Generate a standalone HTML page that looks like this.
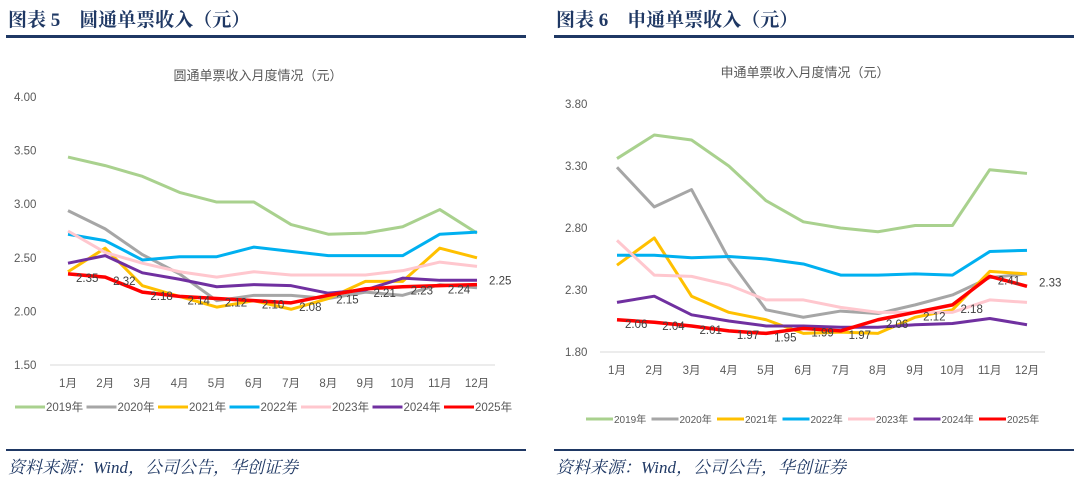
<!DOCTYPE html>
<html><head><meta charset="utf-8"><style>
body{margin:0;background:#fff;width:1080px;height:480px;overflow:hidden;font-family:"Liberation Sans","Noto Sans CJK SC",sans-serif}
</style></head><body>
<svg id="svg" width="1080" height="480" xmlns="http://www.w3.org/2000/svg">
<g>
<text x="8" y="26" font-family="'Liberation Serif','Noto Serif CJK SC',serif" font-weight="bold" font-size="19" fill="#1f3864">图表 5　圆通单票收入（元）</text>
<rect x="6" y="35" width="520" height="3" fill="#1f3864"/>
</g>
<g>
<text x="556" y="26" font-family="'Liberation Serif','Noto Serif CJK SC',serif" font-weight="bold" font-size="19" fill="#1f3864">图表 6　申通单票收入（元）</text>
<rect x="554" y="35" width="520" height="3" fill="#1f3864"/>
</g>
<rect x="6" y="449" width="520" height="2" fill="#1f3864"/>
<rect x="554" y="449" width="520" height="2" fill="#1f3864"/>
<text x="8" y="473" font-family="'Liberation Serif','Noto Serif CJK SC',serif" font-style="italic" font-size="17" fill="#1f3864">资料来源：Wind，公司公告，华创证券</text>
<text x="556" y="473" font-family="'Liberation Serif','Noto Serif CJK SC',serif" font-style="italic" font-size="17" fill="#1f3864">资料来源：Wind，公司公告，华创证券</text>
</svg>
<script>
const months=["1月","2月","3月","4月","5月","6月","7月","8月","9月","10月","11月","12月"];
const years=["2019年","2020年","2021年","2022年","2023年","2024年","2025年"];
const colors=["#a9d18e","#a6a6a6","#ffc000","#00b0f0","#ffc7ce","#7030a0","#ff0000"];
const ytoTicks=[1.5,2.0,2.5,3.0,3.5,4.0];
const yto2019=[3.44,3.36,3.26,3.11,3.02,3.02,2.81,2.72,2.73,2.79,2.95,2.73];
const yto2020=[2.94,2.77,2.53,2.35,2.10,2.15,2.15,2.12,2.18,2.15,2.25,2.22];
const yto2021=[2.37,2.59,2.24,2.14,2.04,2.10,2.02,2.12,2.28,2.28,2.59,2.50];
const yto2022=[2.72,2.66,2.48,2.51,2.51,2.60,2.56,2.52,2.52,2.52,2.72,2.74];
const yto2023=[2.75,2.55,2.45,2.37,2.32,2.37,2.34,2.34,2.34,2.38,2.46,2.42];
const yto2024=[2.45,2.52,2.36,2.30,2.23,2.25,2.24,2.17,2.20,2.31,2.29,2.29];
const yto2025=[2.35,2.32,2.18,2.14,2.12,2.10,2.08,2.15,2.21,2.23,2.24,2.25];
const stoTicks=[1.8,2.3,2.8,3.3,3.8];
const sto2019=[3.36,3.55,3.51,3.30,3.02,2.85,2.80,2.77,2.82,2.82,3.27,3.24];
const sto2020=[3.29,2.97,3.11,2.55,2.14,2.08,2.13,2.11,2.18,2.26,2.40,2.43];
const sto2021=[2.50,2.72,2.25,2.12,2.06,1.95,1.96,1.95,2.08,2.14,2.45,2.43];
const sto2022=[2.58,2.58,2.56,2.57,2.55,2.51,2.42,2.42,2.43,2.42,2.61,2.62];
const sto2023=[2.70,2.42,2.41,2.34,2.22,2.22,2.16,2.12,2.12,2.12,2.22,2.20];
const sto2024=[2.20,2.25,2.10,2.05,2.01,2.01,2.00,2.00,2.02,2.03,2.07,2.02];
const sto2025=[2.06,2.04,2.01,1.97,1.95,1.99,1.97,2.06,2.12,2.18,2.41,2.33];

const NS="http://www.w3.org/2000/svg";
const svg=document.getElementById('svg');
function mk(tag,attrs,parent){const e=document.createElementNS(NS,tag);for(const k in attrs)e.setAttribute(k,attrs[k]);(parent||svg).appendChild(e);return e;}

function chart(cfg){
  const g=mk('g',{});
  
  
  const ymin=cfg.ticks[0],ymax=cfg.ticks[cfg.ticks.length-1];
  const yS=v=>cfg.yBot-(v-ymin)/(ymax-ymin)*(cfg.yBot-cfg.yTop);
  const xS=i=>cfg.x0+i*(cfg.x1-cfg.x0)/11;
  const t=mk('text',{x:cfg.titleX,y:cfg.titleY,'font-size':13,fill:'#595959','text-anchor':'middle'},g);
  t.textContent=cfg.title;
  
  
  cfg.ticks.forEach(v=>{
    const tl=mk('text',{x:cfg.tickX,y:yS(v)+4,'font-size':11.5,fill:'#595959'},g);
    tl.textContent=v.toFixed(2);
    
    
  });
  const ax=mk('line',{x1:cfg.axL,x2:cfg.axR,y1:cfg.yBot,y2:cfg.yBot,stroke:'#d9d9d9','stroke-width':1},g);
  
  
  months.forEach((m,i)=>{
    const ml=mk('text',{x:xS(i),y:cfg.yBot+22,'font-size':11.5,fill:'#595959','text-anchor':'middle'},g);
    ml.textContent=m;
    
    
  });
  cfg.series.forEach((s,k)=>{
    const p=mk('polyline',{points:s.map((v,i)=>xS(i)+','+yS(v)).join(' '),fill:'none',stroke:colors[k],'stroke-width':k==6?3.5:3,'stroke-linejoin':'round'},g);
    
    
  });
  const last=cfg.series[6];
  last.forEach((v,i)=>{
    const dl=mk('text',{x:xS(i)+(i==11?12:8),y:yS(v)+(i==11?0:8),'font-size':11.5,fill:'#404040'},g);
    dl.textContent=v.toFixed(2);
    
    
  });
  let lx=cfg.legX;
  years.forEach((y,k)=>{
    const lg=mk('g',{},g);
    
    
    mk('line',{x1:lx,x2:lx+cfg.legSw,y1:cfg.legY,y2:cfg.legY,stroke:colors[k],'stroke-width':3},lg);
    const lt=mk('text',{x:lx+cfg.legSw+1,y:cfg.legY+4,'font-size':cfg.legFs,fill:'#595959'},lg);
    lt.textContent=y;
    lx+=cfg.legStep;
  });
}
chart({name:'yto-chart',title:'圆通单票收入月度情况（元）',titleX:258,titleY:80,ticks:ytoTicks,yTop:97,yBot:365,x0:68,x1:477,axL:50,axR:495,tickX:14,
  series:[yto2019,yto2020,yto2021,yto2022,yto2023,yto2024,yto2025],legX:15,legY:407,legSw:30,legStep:71.5,legFs:11.5});
chart({name:'sto-chart',title:'申通单票收入月度情况（元）',titleX:805,titleY:77,ticks:stoTicks,yTop:104,yBot:352,x0:617,x1:1027,axL:600,axR:1045,tickX:565,
  series:[sto2019,sto2020,sto2021,sto2022,sto2023,sto2024,sto2025],legX:586,legY:419,legSw:27,legStep:65.5,legFs:10});
</script>
</body></html>
